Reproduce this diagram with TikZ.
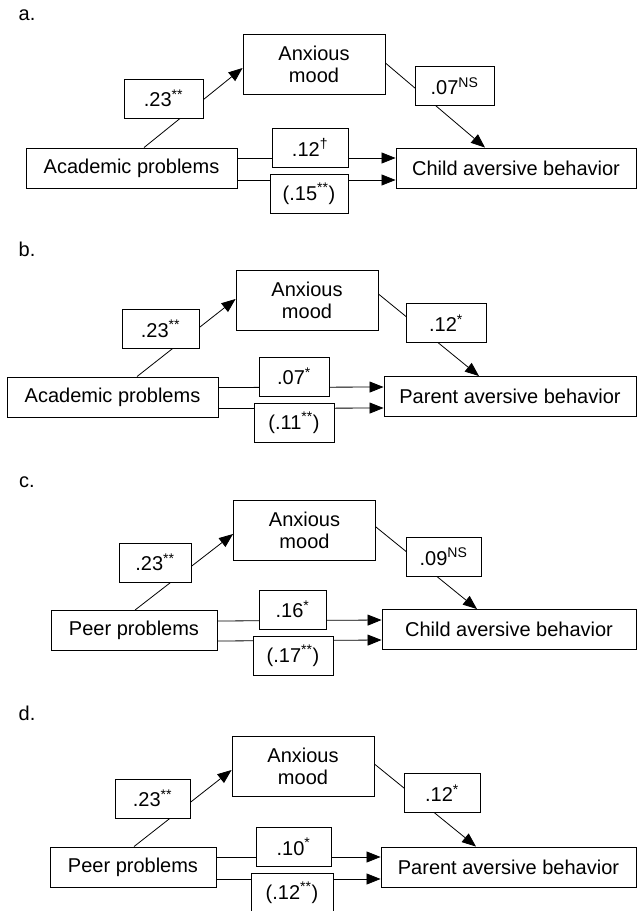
\documentclass[tikz,border=0pt]{standalone}
\usepackage{fontspec}
\setmainfont{Liberation Sans}
\usetikzlibrary{arrows.meta, backgrounds}
\tikzset{
  var/.style = {
    rectangle, draw=black, line width=0.9pt, fill=white,
    minimum height=40pt, inner sep=0pt, align=center,
    font=\fontsize{20}{22}\selectfont
  },
  mood/.style = {
    var, minimum width=142pt, minimum height=60pt
  },
  coef/.style = {
    var, minimum height=39pt
  },
  panel/.style = {
    font=\fontsize{20}{22}\selectfont, inner sep=0pt
  },
  edge/.style = { draw=black, line width=0.8pt },
  arr/.style  = { edge, -{Triangle[length=14pt, width=11pt]} }
}

\begin{document}
\begin{tikzpicture}[x=1pt, y=-1pt]

    \useasboundingbox (0,0) rectangle (637,911);
    \clip (0,0) rectangle (637,911);

    % ------------------------------------------------------------- Panel a
    \node [panel] (lbl_a) at (27,15) {a.};
    \node [var, minimum width=211pt] (acad_a)  at (131.5,168) {Academic problems};
    \node [mood]                     (mood_a)  at (314,64)    {Anxious\\mood};
    \node [var, minimum width=240pt] (child_a) at (516,168)   {Child aversive behavior};
    \node [coef, minimum width=79pt] (c23_a)   at (163.5,98.5) {.23\textsuperscript{**}};
    \node [coef, minimum width=79pt] (c07_a)   at (454.5,86)   {.07\textsuperscript{NS}};
    \node [coef, minimum width=76pt] (c12_a)   at (310,147.5)  {.12\textsuperscript{\textdagger}};
    \node [coef, minimum width=78pt] (c15_a)   at (309,193.5)  {(.15\textsuperscript{**})};

    % ------------------------------------------------------------- Panel b
    \node [panel] (lbl_b) at (27,249) {b.};
    \node [var, minimum width=211pt] (acad_b)   at (112.5,397) {Academic problems};
    \node [mood]                     (mood_b)   at (307,300.5) {Anxious\\mood};
    \node [var, minimum width=252pt] (parent_b) at (510,396.5) {Parent aversive behavior};
    \node [coef, minimum width=77pt] (c23_b)    at (160.5,329) {.23\textsuperscript{**}};
    \node [coef, minimum width=80pt] (c12_b)    at (446,323)   {.12\textsuperscript{*}};
    \node [coef, minimum width=70pt] (c07_b)    at (294,376.5) {.07\textsuperscript{*}};
    \node [coef, minimum width=80pt] (c11_b)    at (294,422.5) {(.11\textsuperscript{**})};

    % ------------------------------------------------------------- Panel c
    \node [panel] (lbl_c) at (27,482) {c.};
    \node [var, minimum width=166pt] (peer_c)  at (134,630.5)   {Peer problems};
    \node [mood]                     (mood_c)  at (304.5,530.5) {Anxious\\mood};
    \node [var, minimum width=254pt] (child_c) at (509,629.5)   {Child aversive behavior};
    \node [coef, minimum width=72pt] (c23_c)   at (155,562.5)   {.23\textsuperscript{**}};
    \node [coef, minimum width=75pt] (c09_c)   at (443.5,556.5) {.09\textsuperscript{NS}};
    \node [coef, minimum width=67pt] (c16_c)   at (292.5,609.5) {.16\textsuperscript{*}};
    \node [coef, minimum width=80pt] (c17_c)   at (293,656)     {(.17\textsuperscript{**})};

    % ------------------------------------------------------------- Panel d
    \node [panel] (lbl_d) at (27,713) {d.};
    \node [var, minimum width=166pt] (peer_d)   at (133,867)     {Peer problems};
    \node [mood]                     (mood_d)   at (303,766)     {Anxious\\mood};
    \node [var, minimum width=255pt] (parent_d) at (508.5,867)   {Parent aversive behavior};
    \node [coef, minimum width=75pt] (c23_d)    at (152.5,798.5) {.23\textsuperscript{**}};
    \node [coef, minimum width=76pt] (c12_d)    at (442,793)     {.12\textsuperscript{*}};
    \node [coef, minimum width=75pt] (c10_d)    at (293.5,847)   {.10\textsuperscript{*}};
    \node [coef, minimum width=82pt] (c12b_d)   at (292,893)     {(.12\textsuperscript{**})};

    % ----------------------------------------- Connectors (behind the boxes)
    \begin{scope}[on background layer]

      % -------- panel a
      \draw [arr] ([xshift=12.5pt]acad_a.north) -- ([yshift=-4pt]mood_a.west);
      \draw [arr] ([yshift=1pt]mood_a.east)     -- ([xshift=-31pt]child_a.north);
      \draw [arr] ([yshift=10pt]acad_a.east)    -- ([yshift=10pt]child_a.west);
      \draw [arr] ([yshift=-12pt]acad_a.east)   -- ([yshift=-12pt]child_a.west);

      % -------- panel b
      \draw [arr] ([xshift=24.5pt]acad_b.north) -- ([yshift=1.5pt]mood_b.west);
      \draw [arr] ([yshift=6.5pt]mood_b.east)   -- ([xshift=-31pt]parent_b.north);
      \draw [arr] ([yshift=9.5pt]acad_b.east)   -- ([yshift=9.5pt]parent_b.west);
      \draw [arr] ([yshift=-11.5pt]acad_b.east) -- ([yshift=-11.5pt]parent_b.west);

      % -------- panel c
      \draw [arr] ([xshift=1pt]peer_c.north)     -- ([yshift=-3.5pt]mood_c.west);
      \draw [arr] ([yshift=3.5pt]mood_c.east)    -- ([xshift=-32pt]child_c.north);
      \draw [arr] ([yshift=9.5pt]peer_c.east)    -- ([yshift=9.5pt]child_c.west);
      \draw [arr] ([yshift=-10.5pt]peer_c.east)  -- ([yshift=-10.5pt]child_c.west);

      % -------- panel d
      \draw [arr] ([xshift=1pt]peer_d.north)     -- ([yshift=-4pt]mood_d.west);
      \draw [arr] ([yshift=2pt]mood_d.east)      -- ([xshift=-32.5pt]parent_d.north);
      \draw [arr] ([yshift=10pt]peer_d.east)     -- ([yshift=10pt]parent_d.west);
      \draw [arr] ([yshift=-12pt]peer_d.east)    -- ([yshift=-12pt]parent_d.west);

    \end{scope}

\end{tikzpicture}
\end{document}
